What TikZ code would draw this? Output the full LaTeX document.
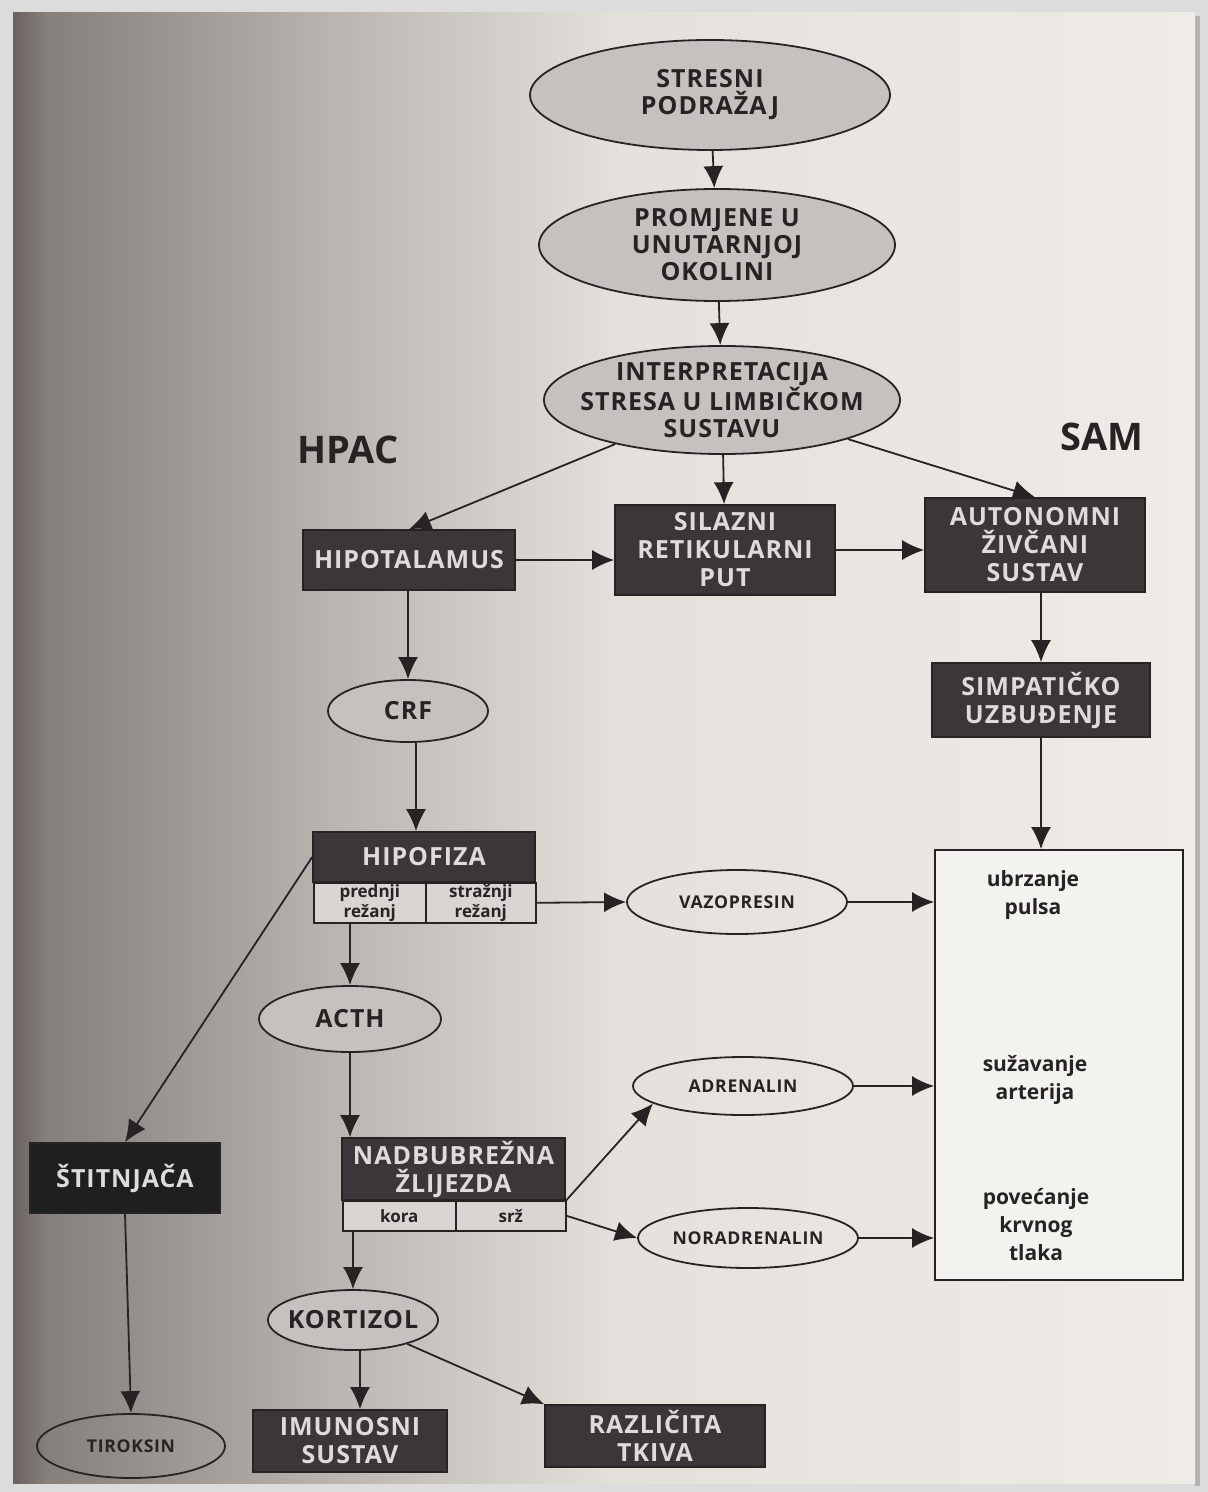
\documentclass[tikz,border=0pt]{standalone}
\usepackage{fontspec}
\setmainfont{Open Sans}
\newfontfamily\spaced{Open Sans}[LetterSpace=4]
\usetikzlibrary{arrows.meta,shapes.geometric,calc}
\definecolor{framec}{HTML}{DCDCDC}
\definecolor{bgA}{HTML}{6A6260}
\definecolor{bgB}{HTML}{857F7C}
\definecolor{bgC}{HTML}{B9B4AF}
\definecolor{bgD}{HTML}{E4E1DD}
\definecolor{bgE}{HTML}{EFECE8}
\definecolor{darkbox}{HTML}{3B3738}
\definecolor{ellgray}{HTML}{C4C1BE}
\definecolor{cellc}{HTML}{D8D5D2}
\definecolor{lighttext}{HTML}{DDDBDB}
\definecolor{inkc}{HTML}{262324}
\definecolor{boxfill}{HTML}{F4F2EF}
\begin{document}
\begin{tikzpicture}[x=0.5pt,y=-0.5pt,
  ell/.style={ellipse, draw=inkc, line width=0.9pt, fill=ellgray, align=center,
    inner sep=-30pt, text=inkc, font=\spaced\bfseries\fontsize{12.5}{13.5}\selectfont},
  wel/.style={ellipse, draw=inkc, line width=0.9pt, fill=none, align=center,
    inner sep=-30pt, text=inkc, font=\spaced\bfseries\fontsize{8.8}{9}\selectfont},
  dbox/.style={rectangle, draw=inkc, line width=0.8pt, fill=darkbox, align=center,
    inner sep=0pt, text=lighttext, font=\spaced\bfseries\fontsize{12.5}{14}\selectfont},
  cellbox/.style={rectangle, draw=inkc, line width=0.8pt, fill=cellc, align=center,
    inner sep=0pt, text=inkc, font=\bfseries\fontsize{8.5}{10}\selectfont},
  head/.style={text=inkc, font=\bfseries\fontsize{19}{21}\selectfont, inner sep=0pt},
  efftext/.style={align=center, text=inkc, inner sep=0pt, font=\bfseries\fontsize{10.5}{14}\selectfont},
  arr/.style={draw=inkc, line width=0.9pt, -{Latex[length=11pt,width=10pt]}}
]
\useasboundingbox (0,0) rectangle (1208,1492);
% frame and page
\fill[framec] (0,0) rectangle (1208,1492);
\fill[gray!60] (1195,16) rectangle (1200,1486);
\shade[left color=bgA, right color=bgB] (13,13) rectangle (46,1483);
\shade[left color=bgB, right color=bgC] (45,13) rectangle (331,1483);
\shade[left color=bgC, right color=bgD] (330,13) rectangle (621,1483);
\shade[left color=bgD, right color=bgE] (620,13) rectangle (1195,1483);

% top chain
\node[ell, minimum width=180pt, minimum height=55pt] (stres) at (710,95) {STRESNI\\PODRAŽAJ};
\node[ell, minimum width=178pt, minimum height=56pt] (promj) at (717,245) {PROMJENE U\\UNUTARNJOJ\\OKOLINI};
\node[ell, minimum width=178pt, minimum height=54pt] (interp) at (722,400) {INTERPRETACIJA\\STRESA U LIMBIČKOM\\SUSTAVU};

\node[head] (hpac) at (348,450) {HPAC};
\node[head] (sam) at (1102,437) {SAM};

% dark boxes
\node[dbox, minimum width=106pt, minimum height=30pt] (hipot) at (409,560) {HIPOTALAMUS};
\node[dbox, minimum width=110pt, minimum height=45pt] (silazni) at (725,550) {SILAZNI\\RETIKULARNI\\PUT};
\node[dbox, minimum width=110pt, minimum height=47pt] (auton) at (1035,545) {AUTONOMNI\\ŽIVČANI\\SUSTAV};
\node[dbox, minimum width=109pt, minimum height=37pt] (simpat) at (1041,700) {SIMPATIČKO\\UZBUĐENJE};

\node[ell, minimum width=80pt, minimum height=31pt] (crf) at (408,711) {CRF};

% hipofiza
\node[dbox, minimum width=111pt, minimum height=25pt] (hipof) at (424,857) {HIPOFIZA};
\node[cellbox, minimum width=56pt, minimum height=20pt, anchor=north west] (predn) at (313,882) {prednji\\režanj};
\node[cellbox, minimum width=55pt, minimum height=20pt, anchor=north west] (strazn) at (425,882) {stražnji\\režanj};

\node[wel, minimum width=110pt, minimum height=32pt] (vazo) at (737,902) {VAZOPRESIN};

% effects box
\node[rectangle, draw=inkc, line width=0.9pt, fill=boxfill, minimum width=124pt, minimum height=215pt, inner sep=0pt] (eff) at (1059,1065) {};
\node[efftext] (e1) at (1033,895) {ubrzanje\\pulsa};
\node[efftext] (e2) at (1035,1080) {sužavanje\\arterija};
\node[efftext] (e3) at (1036,1225) {povećanje\\krvnog\\tlaka};

\node[ell, minimum width=91pt, minimum height=33pt] (acth) at (350,1019) {ACTH};
\node[wel, minimum width=110pt, minimum height=29pt] (adren) at (743,1086) {ADRENALIN};

% nadbubrezna
\node[dbox, minimum width=111.5pt, minimum height=31pt] (nadb) at (453.5,1169) {NADBUBREŽNA\\ŽLIJEZDA};
\node[cellbox, minimum width=56.5pt, minimum height=15pt, anchor=north west] (kora) at (342,1200) {kora};
\node[cellbox, minimum width=55pt, minimum height=15pt, anchor=north west] (srz) at (455,1200) {srž};

\node[wel, minimum width=110pt, minimum height=30pt] (noradr) at (748,1238) {NORADRENALIN};

\node[dbox, fill=black!88, minimum width=95pt, minimum height=35pt] (stit) at (125,1178) {ŠTITNJAČA};

\node[ell, minimum width=85pt, minimum height=30pt] (kort) at (353,1320) {KORTIZOL};
\node[wel, minimum width=94pt, minimum height=32pt] (tirok) at (131,1446) {TIROKSIN};
\node[dbox, minimum width=97pt, minimum height=31pt] (imun) at (350,1441) {IMUNOSNI\\SUSTAV};
\node[dbox, minimum width=110pt, minimum height=31pt] (razl) at (655,1436) {RAZLIČITA\\TKIVA};

% connectors
\draw[arr] (stres) -- (promj);
\draw[arr] (promj) -- (interp);
\draw[arr] (interp) -- (hipot.north);
\draw[arr] (interp) -- (silazni);
\draw[arr] (interp) -- (auton.north);
\draw[arr] (hipot.east) -- (silazni.west |- hipot.east);
\draw[arr] (silazni.east) -- (auton.west |- silazni.east);
\draw[arr] (crf.north |- hipot.south) -- (crf.north);
\draw[arr] (auton.south -| simpat.north) -- (simpat.north);
\draw[arr] ($(crf.south)+(8,0)$) -- ($(crf.south |- hipof.north)+(8,0)$);
\draw[arr] (simpat.south) -- (simpat.south |- eff.north);
\draw[arr] (strazn.east) -- (vazo.west);
\draw[arr] (vazo.east) -- (eff.west |- vazo.east);
\draw[arr] (acth.north |- predn.south) -- (acth.north);
\draw[arr] (hipof.west) -- (stit.north);
\draw[arr] (acth.south) -- (acth.south |- nadb.north);
\draw[arr] (nadb.south east) -- (adren.191);
\draw[arr] (srz.east) -- (noradr.west);
\draw[arr] (adren.east) -- (eff.west |- adren.east);
\draw[arr] (noradr.east) -- (eff.west |- noradr.east);
\draw[arr] (kort.north |- kora.south) -- (kort.north);
\draw[arr] (stit.south) -- (tirok.north);
\draw[arr] ($(kort.south)+(7,0)$) -- ($(kort.south |- imun.north)+(7,0)$);
\draw[arr] (kort) -- (razl.north west);
\end{tikzpicture}
\end{document}
